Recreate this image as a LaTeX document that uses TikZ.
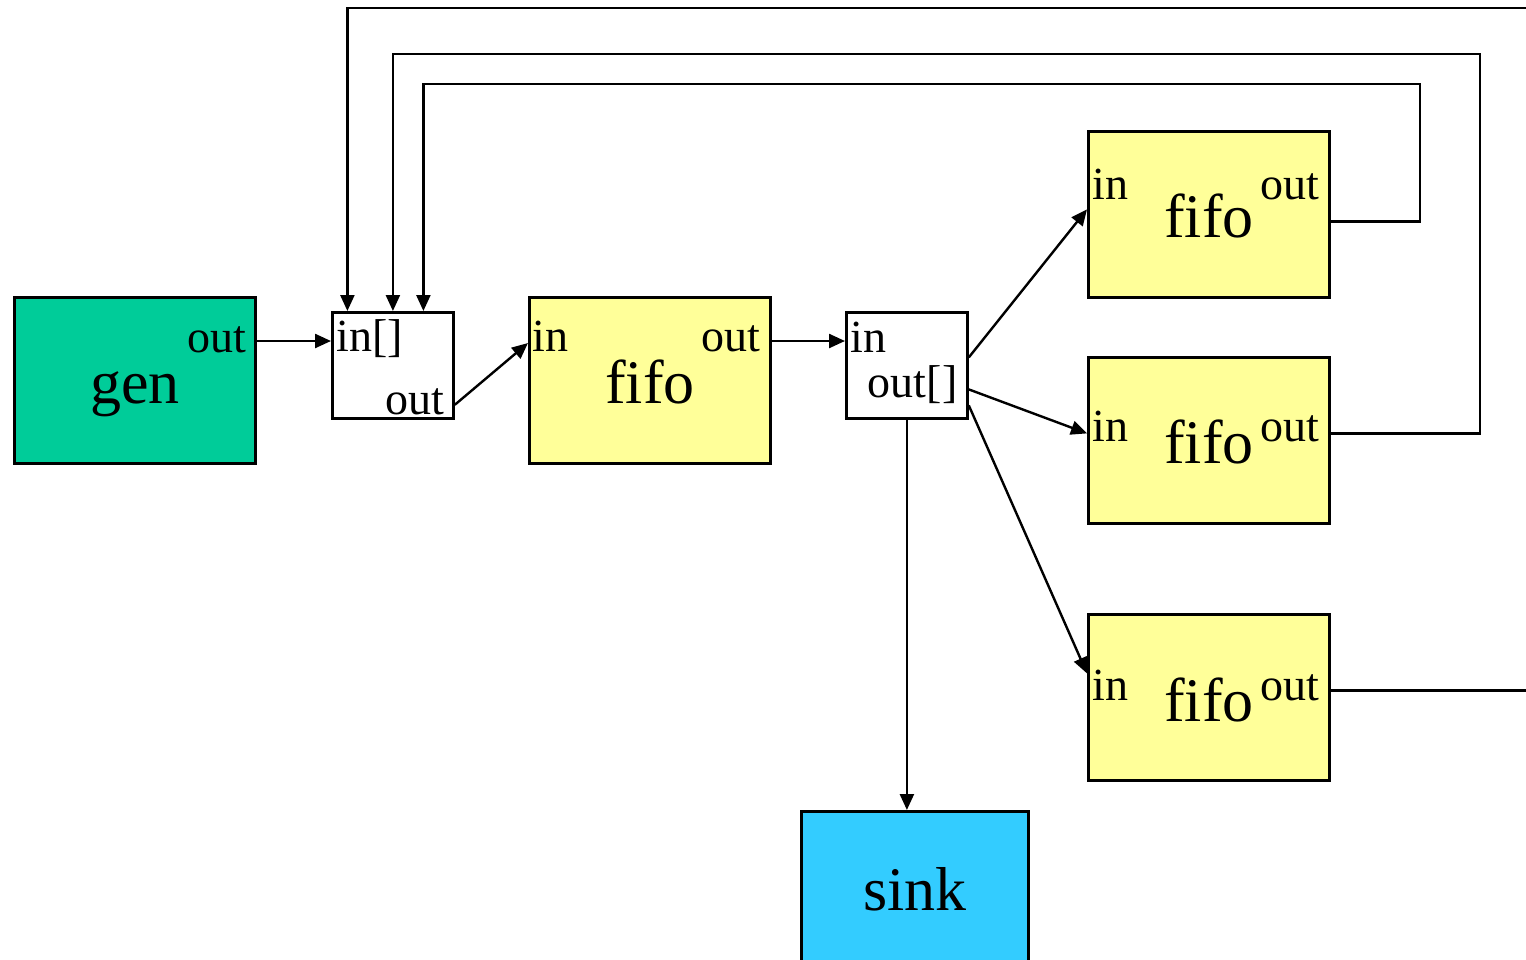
\documentclass[tikz,border=0pt]{standalone}
\usepackage{fontspec}
\setmainfont{Liberation Serif}
\usetikzlibrary{arrows.meta}
\definecolor{genfill}{RGB}{0,204,153}
\definecolor{fifofill}{RGB}{255,255,153}
\definecolor{sinkfill}{RGB}{51,204,255}
\tikzset{
  unit/.style={draw, line width=1.4pt, inner sep=0pt, anchor=north west},
  bigbox/.style={unit, minimum width=120.5pt, minimum height=83pt},
  smallbox/.style={unit, fill=white, minimum width=60.5pt, minimum height=53pt},
  bigtext/.style={font=\fontsize{31}{31}\selectfont, inner sep=0pt, anchor=base},
  porttext/.style={font=\fontsize{23}{23}\selectfont, inner sep=0pt},
  link/.style={line width=1.2pt, -{Triangle[length=8pt,width=7pt]}}
}
\begin{document}
\begin{tikzpicture}[x=0.5pt, y=-0.5pt]
  \clip (0,0) rectangle (1526,959);
  % blocks
  \path (13,296) node[bigbox, fill=genfill] (gen) {};
  \path (331,311) node[smallbox] (join) {};
  \path (528,296) node[bigbox, fill=fifofill] (fifoA) {};
  \path (845,311) node[smallbox] (split) {};
  \path (1087,130) node[bigbox, fill=fifofill] (fifoB) {};
  \path (1087,356) node[bigbox, fill=fifofill] (fifoC) {};
  \path (1087,613) node[bigbox, fill=fifofill] (fifoD) {};
  \path (800,810) node[unit, fill=sinkfill, minimum width=113.5pt, minimum height=95pt] (sink) {};
  % names
  \path ([shift={(0,23)}]gen.center) node[bigtext] (genname) {gen};
  \path ([shift={(0,23)}]fifoA.center) node[bigtext] (fifoAname) {fifo};
  \path ([shift={(0,23)}]fifoB.center) node[bigtext] (fifoBname) {fifo};
  \path ([shift={(0,23)}]fifoC.center) node[bigtext] (fifoCname) {fifo};
  \path ([shift={(0,24)}]fifoD.center) node[bigtext] (fifoDname) {fifo};
  \path ([shift={(0,100)}]sink.north) node[bigtext] (sinkname) {sink};
  % ports
  \path ([shift={(-10,56)}]gen.north east) node[porttext, anchor=base east] (genout) {out};
  \path ([shift={(5,40)}]join.north west) node[porttext, anchor=base west] (joinin) {in[]};
  \path ([shift={(-10,-5)}]join.south east) node[porttext, anchor=base east] (joinout) {out};
  \path ([shift={(4,55)}]fifoA.north west) node[porttext, anchor=base west] (fifoAin) {in};
  \path ([shift={(-11,55)}]fifoA.north east) node[porttext, anchor=base east] (fifoAout) {out};
  \path ([shift={(5,41)}]split.north west) node[porttext, anchor=base west] (splitin) {in};
  \path ([shift={(-11,86)}]split.north east) node[porttext, anchor=base east] (splitout) {out[]};
  \path ([shift={(5,69)}]fifoB.north west) node[porttext, anchor=base west] (fifoBin) {in};
  \path ([shift={(-11,69)}]fifoB.north east) node[porttext, anchor=base east] (fifoBout) {out};
  \path ([shift={(5,85)}]fifoC.north west) node[porttext, anchor=base west] (fifoCin) {in};
  \path ([shift={(-11,85)}]fifoC.north east) node[porttext, anchor=base east] (fifoCout) {out};
  \path ([shift={(5,87)}]fifoD.north west) node[porttext, anchor=base west] (fifoDin) {in};
  \path ([shift={(-11,87)}]fifoD.north east) node[porttext, anchor=base east] (fifoDout) {out};
  % bends of the loops
  \coordinate (loopB) at (1420,84);
  \coordinate (loopC) at (1480,54);
  \coordinate (loopD) at (1560,8);
  % connectors
  \draw[link] ([yshift=-22.5pt]gen.north east) -- ([yshift=-15pt]join.north west);
  \draw[link] ([yshift=7.5pt]join.south east) -- ([yshift=-23.5pt]fifoA.north west);
  \draw[link] ([yshift=-22.5pt]fifoA.north east) -- ([yshift=-15pt]split.north west);
  \draw[link] ([yshift=4pt]split.east) -- ([yshift=2.5pt]fifoB.west);
  \draw[link] ([yshift=-12pt]split.east) -- ([yshift=3.5pt]fifoC.west);
  \draw[link] ([yshift=-20pt]split.east) -- ([yshift=12pt]fifoD.west);
  \draw[link] (split.south) -- (split.south |- sink.north);
  \draw[link] ([yshift=-3.5pt]fifoB.east) -| (loopB) -| ([xshift=15.25pt]join.north);
  \draw[link] ([yshift=3.5pt]fifoC.east) -| (loopC) -| (join.north);
  \draw[link] ([yshift=3.5pt]fifoD.east) -| (loopD) -| ([xshift=-22.75pt]join.north);
\end{tikzpicture}
\end{document}
